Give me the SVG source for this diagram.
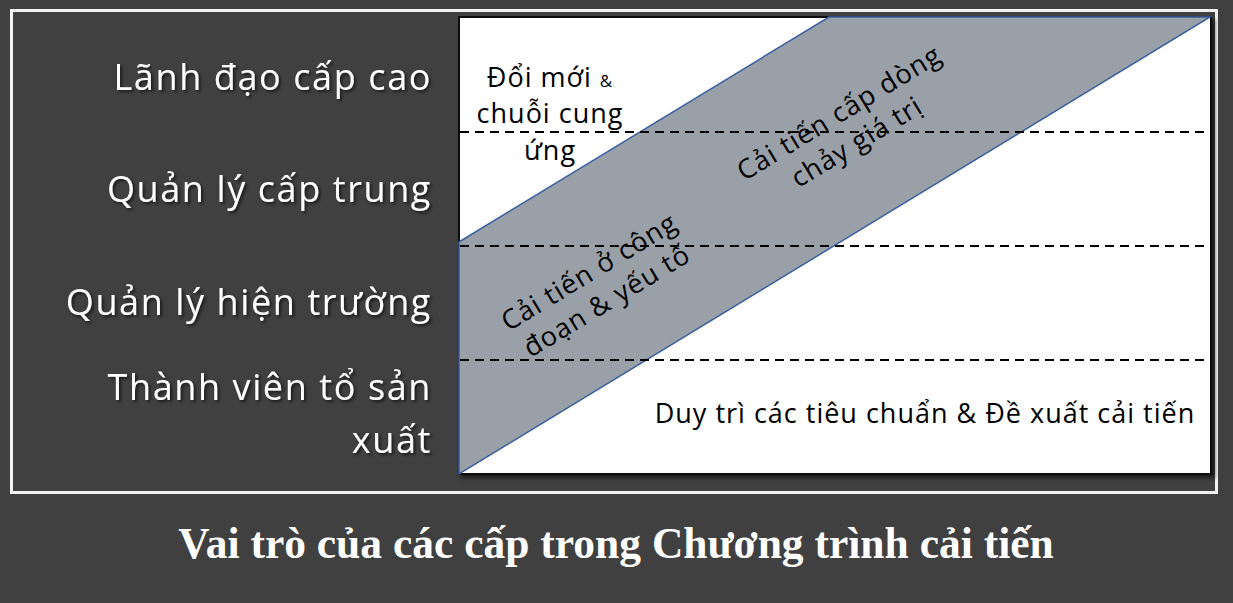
<svg xmlns="http://www.w3.org/2000/svg" width="1233" height="603" viewBox="0 0 1233 603">
<defs>
<style>
.lbl{font-family:"Open Sans","Noto Sans",sans-serif;font-size:36px;letter-spacing:1.6px;fill:#ffffff;text-anchor:end;filter:url(#ts)}
.in{font-family:"Open Sans","Noto Sans",sans-serif;font-size:27px;letter-spacing:1px;fill:#000000}
.dash{stroke:#000;stroke-width:2.2;stroke-dasharray:9 6;fill:none}
.title{font-family:"Liberation Serif","Times New Roman",serif;font-weight:bold;font-size:43.5px;fill:#ffffff;text-anchor:middle}
</style>
<filter id="ts" x="-10%" y="-30%" width="120%" height="160%">
<feDropShadow dx="2" dy="2" stdDeviation="1.5" flood-color="#000" flood-opacity="0.6"/>
</filter>
<filter id="bs" x="-5%" y="-5%" width="110%" height="110%">
<feDropShadow dx="3" dy="3" stdDeviation="2" flood-color="#000" flood-opacity="0.6"/>
</filter>
</defs>
<rect x="0" y="0" width="1233" height="603" fill="#404040"/>
<rect id="frame" x="11.5" y="10.5" width="1205" height="482" fill="none" stroke="#f2f2f2" stroke-width="3"/>
<g id="chart">
<rect x="459" y="17" width="752" height="457" fill="#ffffff" stroke="#111" stroke-width="2" filter="url(#bs)"/>
<polygon id="band" points="459,242 829,17 1210,17 459,474" fill="#9aa0a8" stroke="#3b5fa0" stroke-width="1.5"/>
</g>
<g id="connectors">
<line class="dash" x1="460" y1="132" x2="1210" y2="132"/>
<line class="dash" x1="460" y1="246" x2="1210" y2="246"/>
<line class="dash" x1="460" y1="360" x2="1210" y2="360"/>
</g>
<g id="labels">
<text class="lbl" x="432" y="90">Lãnh đạo cấp cao</text>
<text class="lbl" x="432" y="202">Quản lý cấp trung</text>
<text class="lbl" x="432" y="315">Quản lý hiện trường</text>
<text class="lbl" x="432" y="400">Thành viên tổ sản</text>
<text class="lbl" x="432" y="453">xuất</text>
</g>
<g id="node-innovation">
<text class="in" text-anchor="middle" x="550" y="87">Đổi mới <tspan font-size="17">&amp;</tspan></text>
<text class="in" text-anchor="middle" x="550" y="123">chuỗi cung</text>
<text class="in" text-anchor="middle" x="550" y="160">ứng</text>
</g>
<g id="node-valuestream" transform="translate(847,126) rotate(-31.3)">
<text class="in" text-anchor="middle" x="0" y="-6">Cải tiến cấp dòng</text>
<text class="in" text-anchor="middle" x="0" y="28">chảy giá trị</text>
</g>
<g id="node-process" transform="translate(597,285) rotate(-31.3)">
<text class="in" text-anchor="middle" x="0" y="-6">Cải tiến ở công</text>
<text class="in" text-anchor="middle" x="0" y="28">đoạn &amp; yếu tố</text>
</g>
<g id="node-maintain">
<text class="in" text-anchor="middle" x="925" y="423">Duy trì các tiêu chuẩn &amp; Đề xuất cải tiến</text>
</g>
<text id="title" class="title" x="616" y="558">Vai trò của các cấp trong Chương trình cải tiến</text>
</svg>
